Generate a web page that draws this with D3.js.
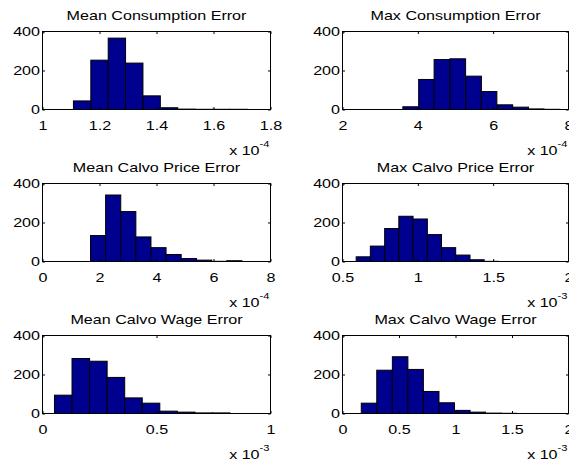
<!DOCTYPE html>
<html>
<head>
<meta charset="utf-8">
<script src="https://cdn.jsdelivr.net/npm/d3@7"></script>
<style>
html,body{margin:0;padding:0;background:#fff;}
svg{display:block;}
text{font-family:"Liberation Sans",Arial,sans-serif;fill:#000;}
</style>
</head>
<body>
<svg id="chart" width="569" height="466"></svg>
<script>
// ---- data (bin centers in axis units, counts) ----
const titles = ["Mean Consumption Error","Max Consumption Error","Mean Calvo Price Error","Max Calvo Price Error","Mean Calvo Wage Error","Max Calvo Wage Error"];
const exponents = ["-4","-4","-4","-3","-3","-3"];
const xDomains = [[1,1.8],[2,8],[0,8],[0.5,2],[0,1],[0,2]];
const xTicks = [[1,1.2,1.4,1.6,1.8],[2,4,6,8],[0,2,4,6,8],[0.5,1,1.5,2],[0,0.5,1],[0,0.5,1,1.5,2]];
const yTicks = [0,200,400];
const binWidths = [0.0609,0.416,0.531,0.0944,0.077,0.1375];

const centers1 = [1.139,1.200,1.261,1.322,1.383,1.444,1.505,1.566,1.627,1.688];
const counts1  = [44,253,366,238,70,9,2,1,1,1];
const centers2 = [3.81,4.23,4.64,5.06,5.48,5.89,6.31,6.73,7.14,7.56];
const counts2  = [14,154,256,260,171,92,24,12,3,1];
const centers3 = [1.95,2.48,3.01,3.54,4.07,4.60,5.14,5.67,6.20,6.73];
const counts3  = [133,341,256,126,71,36,15,7,1,4];
const centers4 = [0.638,0.732,0.827,0.921,1.016,1.110,1.204,1.299,1.393,1.488];
const counts4  = [24,79,169,232,218,138,71,33,9,1];
const centers5 = [0.091,0.168,0.245,0.322,0.399,0.476,0.553,0.630,0.707,0.784];
const counts5  = [94,282,268,185,80,53,12,7,3,3];
const centers6 = [0.235,0.372,0.510,0.647,0.785,0.922,1.060,1.197,1.335,1.472];
const counts6  = [53,222,291,226,113,55,16,7,2,1];

const centers = [centers1,centers2,centers3,centers4,centers5,centers6];
const counts = [counts1,counts2,counts3,counts4,counts5,counts6];

// ---- layout ----
const colLeft = [42.5, 342.5];
const colWidth = [228, 226];
const rowTop = [31.5, 183.5, 335.5];
const axH = 78;
const barColor = "#00008F";
const tickLen = 2.5;
const SX = 1.24; // horizontal stretch of text seen in the reference
const FS = 13;

const svg = d3.select("#chart");

function stretchedText(parent, x, y, anchor, size) {
  return parent.append("text")
    .attr("transform", `translate(${x},${y}) scale(${SX},1)`)
    .attr("text-anchor", anchor).attr("font-size", size);
}

titles.forEach((title, i) => {
  const col = i % 2, row = Math.floor(i / 2);
  const L = colLeft[col], T = rowTop[row], W = colWidth[col];
  const x = d3.scaleLinear().domain(xDomains[i]).range([L, L + W]);
  const y = d3.scaleLinear().domain([0, 400]).range([T + axH, T]);
  const g = svg.append("g");

  // bars
  const bw = binWidths[i];
  const data = centers[i].map((c, k) => ({c, n: counts[i][k]}));
  g.selectAll("rect.bar").data(data).enter().append("rect")
    .attr("class", "bar")
    .attr("x", d => x(d.c - bw / 2))
    .attr("width", d => x(d.c + bw / 2) - x(d.c - bw / 2))
    .attr("y", d => y(d.n))
    .attr("height", d => y(0) - y(d.n))
    .attr("fill", barColor)
    .attr("stroke", "#000")
    .attr("stroke-width", 1);

  // axes (ticks inward) on all four sides
  const gx = g.append("g").attr("transform", `translate(0,${T + axH})`)
    .call(d3.axisBottom(x).tickValues(xTicks[i]).tickFormat(d3.format("~g"))
      .tickSizeInner(-tickLen).tickSizeOuter(0));
  const gy = g.append("g").attr("transform", `translate(${L},0)`)
    .call(d3.axisLeft(y).tickValues(yTicks).tickFormat(d3.format("d"))
      .tickSizeInner(-tickLen).tickSizeOuter(0));
  const gxt = g.append("g").attr("transform", `translate(0,${T})`)
    .call(d3.axisTop(x).tickValues(xTicks[i]).tickFormat("").tickSizeInner(-tickLen).tickSizeOuter(0));
  const gyr = g.append("g").attr("transform", `translate(${L + W},0)`)
    .call(d3.axisRight(y).tickValues(yTicks).tickFormat("").tickSizeInner(-tickLen).tickSizeOuter(0));
  [gx, gy, gxt, gyr].forEach(a => {
    a.select(".domain").remove();
    a.selectAll("line").attr("stroke", "#000");
  });
  [gx, gy].forEach(a => a.selectAll("text")
    .attr("font-size", FS).attr("font-family", '"Liberation Sans",Arial,sans-serif').attr("fill", "#000"));
  gx.selectAll("text").attr("y", null).attr("dy", null)
    .attr("transform", `translate(0,20.5) scale(${SX},1)`);
  gy.selectAll("text").attr("x", null)
    .attr("transform", `translate(-2.5,0) scale(${SX},1)`);

  // box
  g.append("rect").attr("x", L).attr("y", T).attr("width", W).attr("height", axH)
    .attr("fill", "none").attr("stroke", "#000").attr("stroke-width", 1);

  // title
  stretchedText(g, L + W / 2, T - 12, "middle", FS).text(title);

  // exponent label
  const ex = stretchedText(g, L + W - 1, T + axH + 45, "end", FS);
  ex.append("tspan").text("x 10");
  ex.append("tspan").attr("font-size", 9).attr("dy", -8).text(exponents[i]);
});
</script>
</body>
</html>
